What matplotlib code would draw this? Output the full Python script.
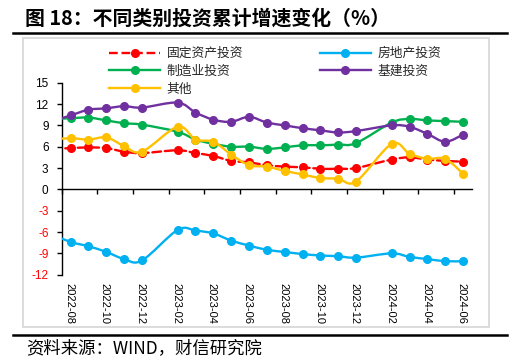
import matplotlib
matplotlib.use("Agg")
import matplotlib.pyplot as plt
from matplotlib.path import Path
from matplotlib.patches import PathPatch, Rectangle
from matplotlib.lines import Line2D
import matplotlib.transforms as mtransforms
import numpy as np

plt.rcParams['font.family'] = ['Liberation Sans', 'Noto Sans CJK SC', 'DejaVu Sans']

# ---- data (cumulative YoY %, monthly; January merged into February) ----
months = ["2022-07", "2022-08", "2022-09", "2022-10", "2022-11", "2022-12",
          "2023-02", "2023-03", "2023-04", "2023-05", "2023-06", "2023-07",
          "2023-08", "2023-09", "2023-10", "2023-11", "2023-12",
          "2024-02", "2024-03", "2024-04", "2024-05", "2024-06"]
fai = [5.7, 5.8, 5.9, 5.8, 5.3, 5.1, 5.5, 5.1, 4.7, 4.0, 3.8, 3.4,
       3.2, 3.1, 2.9, 2.9, 3.0, 4.2, 4.5, 4.2, 4.0, 3.9]
real_estate = [-6.4, -7.4, -8.0, -8.8, -9.8, -10.0, -5.7, -5.8, -6.2, -7.2, -7.9, -8.5,
               -8.8, -9.1, -9.3, -9.4, -9.6, -9.0, -9.5, -9.8, -10.1, -10.1]
manufacturing = [9.9, 10.0, 10.1, 9.7, 9.3, 9.1, 8.1, 7.0, 6.4, 6.0, 6.0, 5.7,
                 5.9, 6.2, 6.2, 6.3, 6.5, 9.4, 9.9, 9.7, 9.6, 9.5]
infrastructure = [9.6, 10.4, 11.2, 11.4, 11.7, 11.5, 12.2, 10.8, 9.8, 9.5, 10.2, 9.4,
                  9.0, 8.6, 8.3, 8.0, 8.2, 9.0, 8.8, 7.8, 6.7, 7.7]
other = [7.0, 7.2, 7.0, 7.3, 6.1, 5.3, 8.8, 7.0, 6.7, 4.9, 3.4, 3.2,
         2.6, 2.1, 1.6, 1.5, 1.1, 6.4, 5.0, 4.3, 4.3, 2.2]

series_names = ["固定资产投资", "房地产投资", "制造业投资", "基建投资", "其他"]
series_values = [fai, real_estate, manufacturing, infrastructure, other]
series_colors = ["#FF0000", "#00B0F0", "#00B050", "#7030A0", "#FFC000"]
series_styles = ["--", "-", "-", "-", "-"]

tick_labels = ["2022-08", "2022-10", "2022-12", "2023-02", "2023-04", "2023-06",
               "2023-08", "2023-10", "2023-12", "2024-02", "2024-04", "2024-06"]
y_ticks = [-12, -9, -6, -3, 0, 3, 6, 9, 12, 15]

# month index relative to 2022-08 (start of month); points at mid-month
def month_index(s):
    y, m = s.split("-")
    return (int(y) - 2022) * 12 + (int(m) - 8)

x_pts = np.array([month_index(m) + 0.5 for m in months])


def smooth_path(x, y):
    pts = np.column_stack([x, y])
    n = len(pts)
    verts = [pts[0]]
    codes = [Path.MOVETO]
    for i in range(n - 1):
        p0 = pts[i - 1] if i > 0 else pts[i]
        p1 = pts[i]
        p2 = pts[i + 1]
        p3 = pts[i + 2] if i + 2 < n else pts[i + 1]
        c1 = p1 + (p2 - p0) / 6.0
        c2 = p2 - (p3 - p1) / 6.0
        verts += [c1, c2, p2]
        codes += [Path.CURVE4] * 3
    return Path(np.array(verts), codes)


fig = plt.figure(figsize=(5.28, 3.64), dpi=100)
W, H = 528.0, 364.0
ax = fig.add_axes([61.7 / W, 1 - 274.7 / H, (472 - 61.7) / W, (274.7 - 82.7) / H])
ax.set_xlim(0, 23)
ax.set_ylim(-12, 15)

handles = []
for i, (name, vals, col, ls) in enumerate(zip(series_names, series_values, series_colors, series_styles)):
    p = smooth_path(x_pts, np.array(vals))
    patch = PathPatch(p, fill=False, edgecolor=col, lw=1.7, linestyle=ls,
                      capstyle='round', joinstyle='round', zorder=2 + i)
    ax.add_patch(patch)
    ax.plot(x_pts, vals, linestyle='none', marker='o', ms=5.5, color=col,
            mec=col, zorder=2 + i)
    handles.append(Line2D([], [], color=col, lw=1.7, linestyle=ls, marker='o', ms=5.5))

ax.set_xlim(0, 23)
ax.set_ylim(-12, 15)

# spines
for s in ['top', 'right']:
    ax.spines[s].set_visible(False)
ax.spines['bottom'].set_position(('data', 0))
ax.spines['left'].set_linewidth(1.0)
ax.spines['bottom'].set_linewidth(1.0)
ax.spines['left'].set_color('black')
ax.spines['bottom'].set_color('black')

ax.set_yticks(y_ticks)
ax.set_yticklabels([str(v) for v in y_ticks], fontsize=8.5)
for lab, v in zip(ax.get_yticklabels(), y_ticks):
    lab.set_color('#FF0000' if v < 0 else '#000000')
ax.tick_params(axis='y', direction='out', length=3.5, width=1.0, pad=6)

ax.set_xticks(np.arange(0, 23, 2))
ax.set_xticklabels([])
ax.tick_params(axis='x', direction='out', length=3.5, width=1.0)

trans = mtransforms.blended_transform_factory(ax.transData, ax.transAxes)
for k, lab in enumerate(tick_labels):
    ax.text(2 * k + 0.42, -0.045, lab, transform=trans, rotation=270,
            ha='center', va='top', fontsize=8, color='#000000')

# legend (column-major order)
order = [0, 2, 4, 1, 3]
leg = fig.legend([handles[i] for i in order], [series_names[i] for i in order],
                 ncol=2, loc='upper left', bbox_to_anchor=(109 / W, 1 - 48 / H),
                 frameon=False, fontsize=9.2, handlelength=4.0, handletextpad=0.5,
                 columnspacing=6.0, labelspacing=0.42, borderaxespad=0, borderpad=0)
for t in leg.get_texts():
    t.set_color('#262626')

# decorations
fig.add_artist(Rectangle((23 / W, 1 - 327 / H), (489 - 23) / W, (327 - 37.7) / H,
                         transform=fig.transFigure, fill=False, ec='#D9D9D9', lw=1.3))
fig.add_artist(Line2D([13 / W, 507 / W], [1 - 33 / H] * 2, transform=fig.transFigure,
                      color='black', lw=1.8))
fig.add_artist(Line2D([13 / W, 507 / W], [1 - 335 / H] * 2, transform=fig.transFigure,
                      color='black', lw=1.8))
fig.text(25 / W, 1 - 18 / H, "图 18：不同类别投资累计增速变化（%）", fontsize=14.3,
         fontweight='bold', va='center', ha='left', color='black',
         family=['Noto Sans CJK SC', 'DejaVu Sans'])
fig.text(26 / W, 1 - 348 / H, "资料来源：WIND，财信研究院", fontsize=12.5,
         style='italic', va='center', ha='left', color='black',
         family=['Noto Sans CJK SC', 'DejaVu Sans'])

fig.savefig("out.png", dpi=100)
